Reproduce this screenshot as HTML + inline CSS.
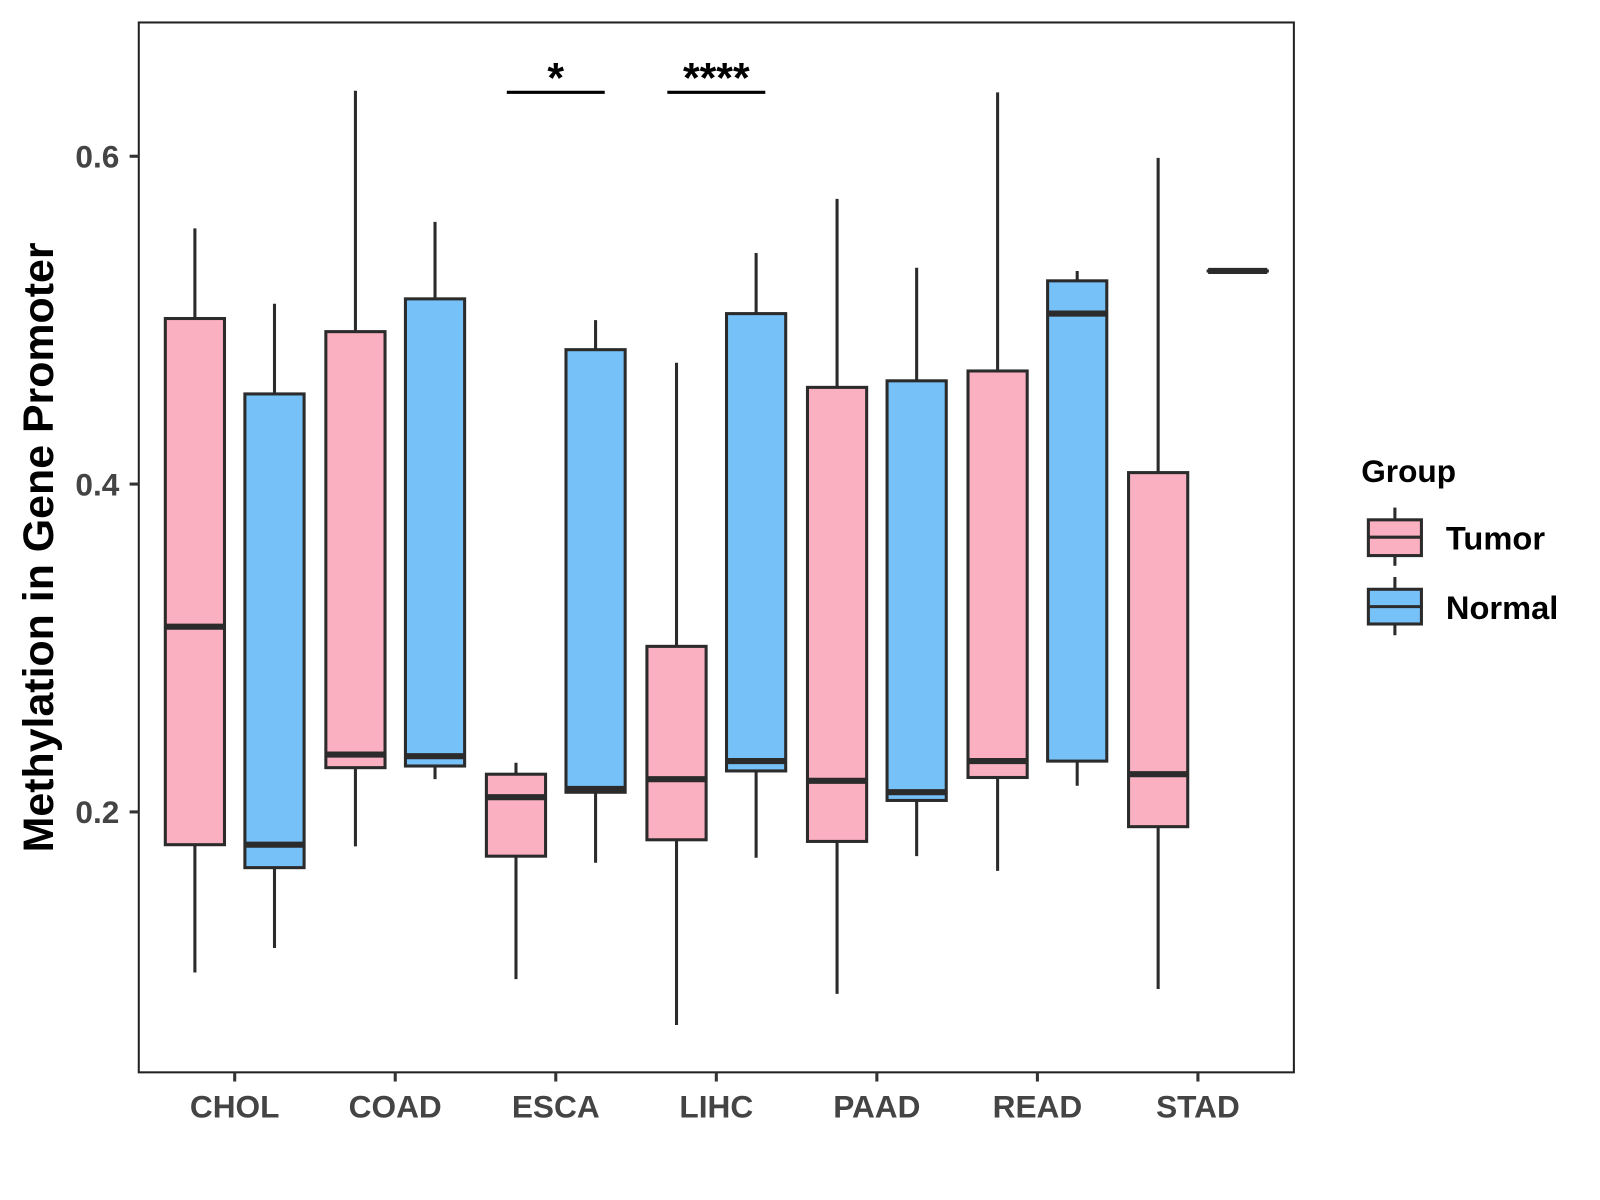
<!DOCTYPE html>
<html><head><meta charset="utf-8"><style>
html,body{margin:0;padding:0;background:#fff}
svg{display:block}
text{font-family:"Liberation Sans",Arial,sans-serif;font-weight:bold}
</style></head><body>
<svg id="chart" width="1600" height="1200" viewBox="0 0 1568 1175" preserveAspectRatio="none" xmlns="http://www.w3.org/2000/svg">
<rect x="136" y="22" width="1132" height="1028" fill="#fff" stroke="#222" stroke-width="2"/>
<g id="marks"></g>
<g id="axes"></g>
<text x="38" y="536" transform="rotate(-90 38 536)" text-anchor="middle" dominant-baseline="central" font-size="42" fill="#000">Methylation in Gene Promoter</text>
<g>
<text x="1334" y="472" font-size="31" fill="#000">Group</text>
<g>
<line x1="1367" y1="497" x2="1367" y2="554" stroke="#2b2b2b" stroke-width="3"/>
<rect x="1341" y="509" width="52" height="35" fill="#FBB0C1" stroke="#2b2b2b" stroke-width="3"/>
<line x1="1341" y1="526" x2="1393" y2="526" stroke="#2b2b2b" stroke-width="3"/>
<text x="1417" y="538" font-size="32" fill="#000">Tumor</text></g>
<g>
<line x1="1367" y1="565" x2="1367" y2="622" stroke="#2b2b2b" stroke-width="3"/>
<rect x="1341" y="577" width="52" height="34" fill="#76C1F7" stroke="#2b2b2b" stroke-width="3"/>
<line x1="1341" y1="594" x2="1393" y2="594" stroke="#2b2b2b" stroke-width="3"/>
<text x="1417" y="606" font-size="32" fill="#000">Normal</text></g>
</g>
</svg>
<script>
const categories = ["CHOL","COAD","ESCA","LIHC","PAAD","READ","STAD"];
const tumorStats = [
 [0.102,0.180,0.313,0.501,0.556],
 [0.179,0.227,0.235,0.493,0.640],
 [0.098,0.173,0.209,0.223,0.230],
 [0.070,0.183,0.220,0.301,0.474],
 [0.089,0.182,0.219,0.459,0.574],
 [0.164,0.221,0.231,0.469,0.639],
 [0.092,0.191,0.223,0.407,0.599]];
const normalStats = [
 [0.117,0.166,0.180,0.455,0.510],
 [0.220,0.228,0.234,0.513,0.560],
 [0.169,0.212,0.214,0.482,0.500],
 [0.172,0.225,0.231,0.504,0.541],
 [0.173,0.207,0.212,0.463,0.532],
 [0.216,0.231,0.504,0.524,0.530],
 [0.530,0.530,0.530,0.530,0.530]];
const yTicks = [0.2,0.4,0.6];
const yTickLabels = ["0.2","0.4","0.6"];
const sigCats = ["ESCA","LIHC"];
const sigLabels = ["*","****"];
const sigLevel = [0.639,0.639];

const NS="http://www.w3.org/2000/svg";
const y = v => 795 - (v-0.2)*1605;
const x = i => 230 + i*157.33;
const marks=document.getElementById('marks'), axes=document.getElementById('axes');
function mk(tag,attrs,parent){const e=document.createElementNS(NS,tag);for(const k in attrs)e.setAttribute(k,attrs[k]);parent.appendChild(e);return e;}
function box(cx,s,fill,name){
  const g=mk('g',{},marks);
  
  
  mk('line',{x1:cx,x2:cx,y1:y(s[0]),y2:y(s[4]),stroke:'#2b2b2b','stroke-width':3},g);
  mk('rect',{x:cx-29,y:y(s[3]),width:58,height:Math.max(y(s[1])-y(s[3]),0.01),fill:fill,stroke:'#2b2b2b','stroke-width':3},g);
  mk('line',{x1:cx-29,x2:cx+29,y1:y(s[2]),y2:y(s[2]),stroke:'#2b2b2b','stroke-width':6},g);
}
categories.forEach((c,i)=>{
  box(x(i)-39,tumorStats[i],'#FBB0C1','box-tumor-'+c.toLowerCase());
  box(x(i)+39,normalStats[i],'#76C1F7','box-normal-'+c.toLowerCase());
  const t=mk('line',{x1:x(i),x2:x(i),y1:1050,y2:1059,stroke:'#333','stroke-width':3},axes);
  
  
  const l=mk('text',{x:x(i),y:1094,'text-anchor':'middle','font-size':31,fill:'#444'},axes);
  l.textContent=c;
  
  
});
yTicks.forEach((v,i)=>{
  const t=mk('line',{x1:127,x2:136,y1:y(v),y2:y(v),stroke:'#333','stroke-width':3},axes);
  
  
  const l=mk('text',{x:117,y:y(v)+11,'text-anchor':'end','font-size':31,fill:'#444'},axes);
  l.textContent=yTickLabels[i];
  
  
});
sigCats.forEach((c,j)=>{
  const i=categories.indexOf(c);
  const g=mk('g',{},marks);
  
  
  mk('line',{x1:x(i)-48,x2:x(i)+48,y1:y(sigLevel[j]),y2:y(sigLevel[j]),stroke:'#000','stroke-width':3},g);
  const t=mk('text',{x:x(i),y:y(sigLevel[j]),'text-anchor':'middle','font-size':42,fill:'#000'},g);
  t.textContent=sigLabels[j];
});
</script>
</body></html>
